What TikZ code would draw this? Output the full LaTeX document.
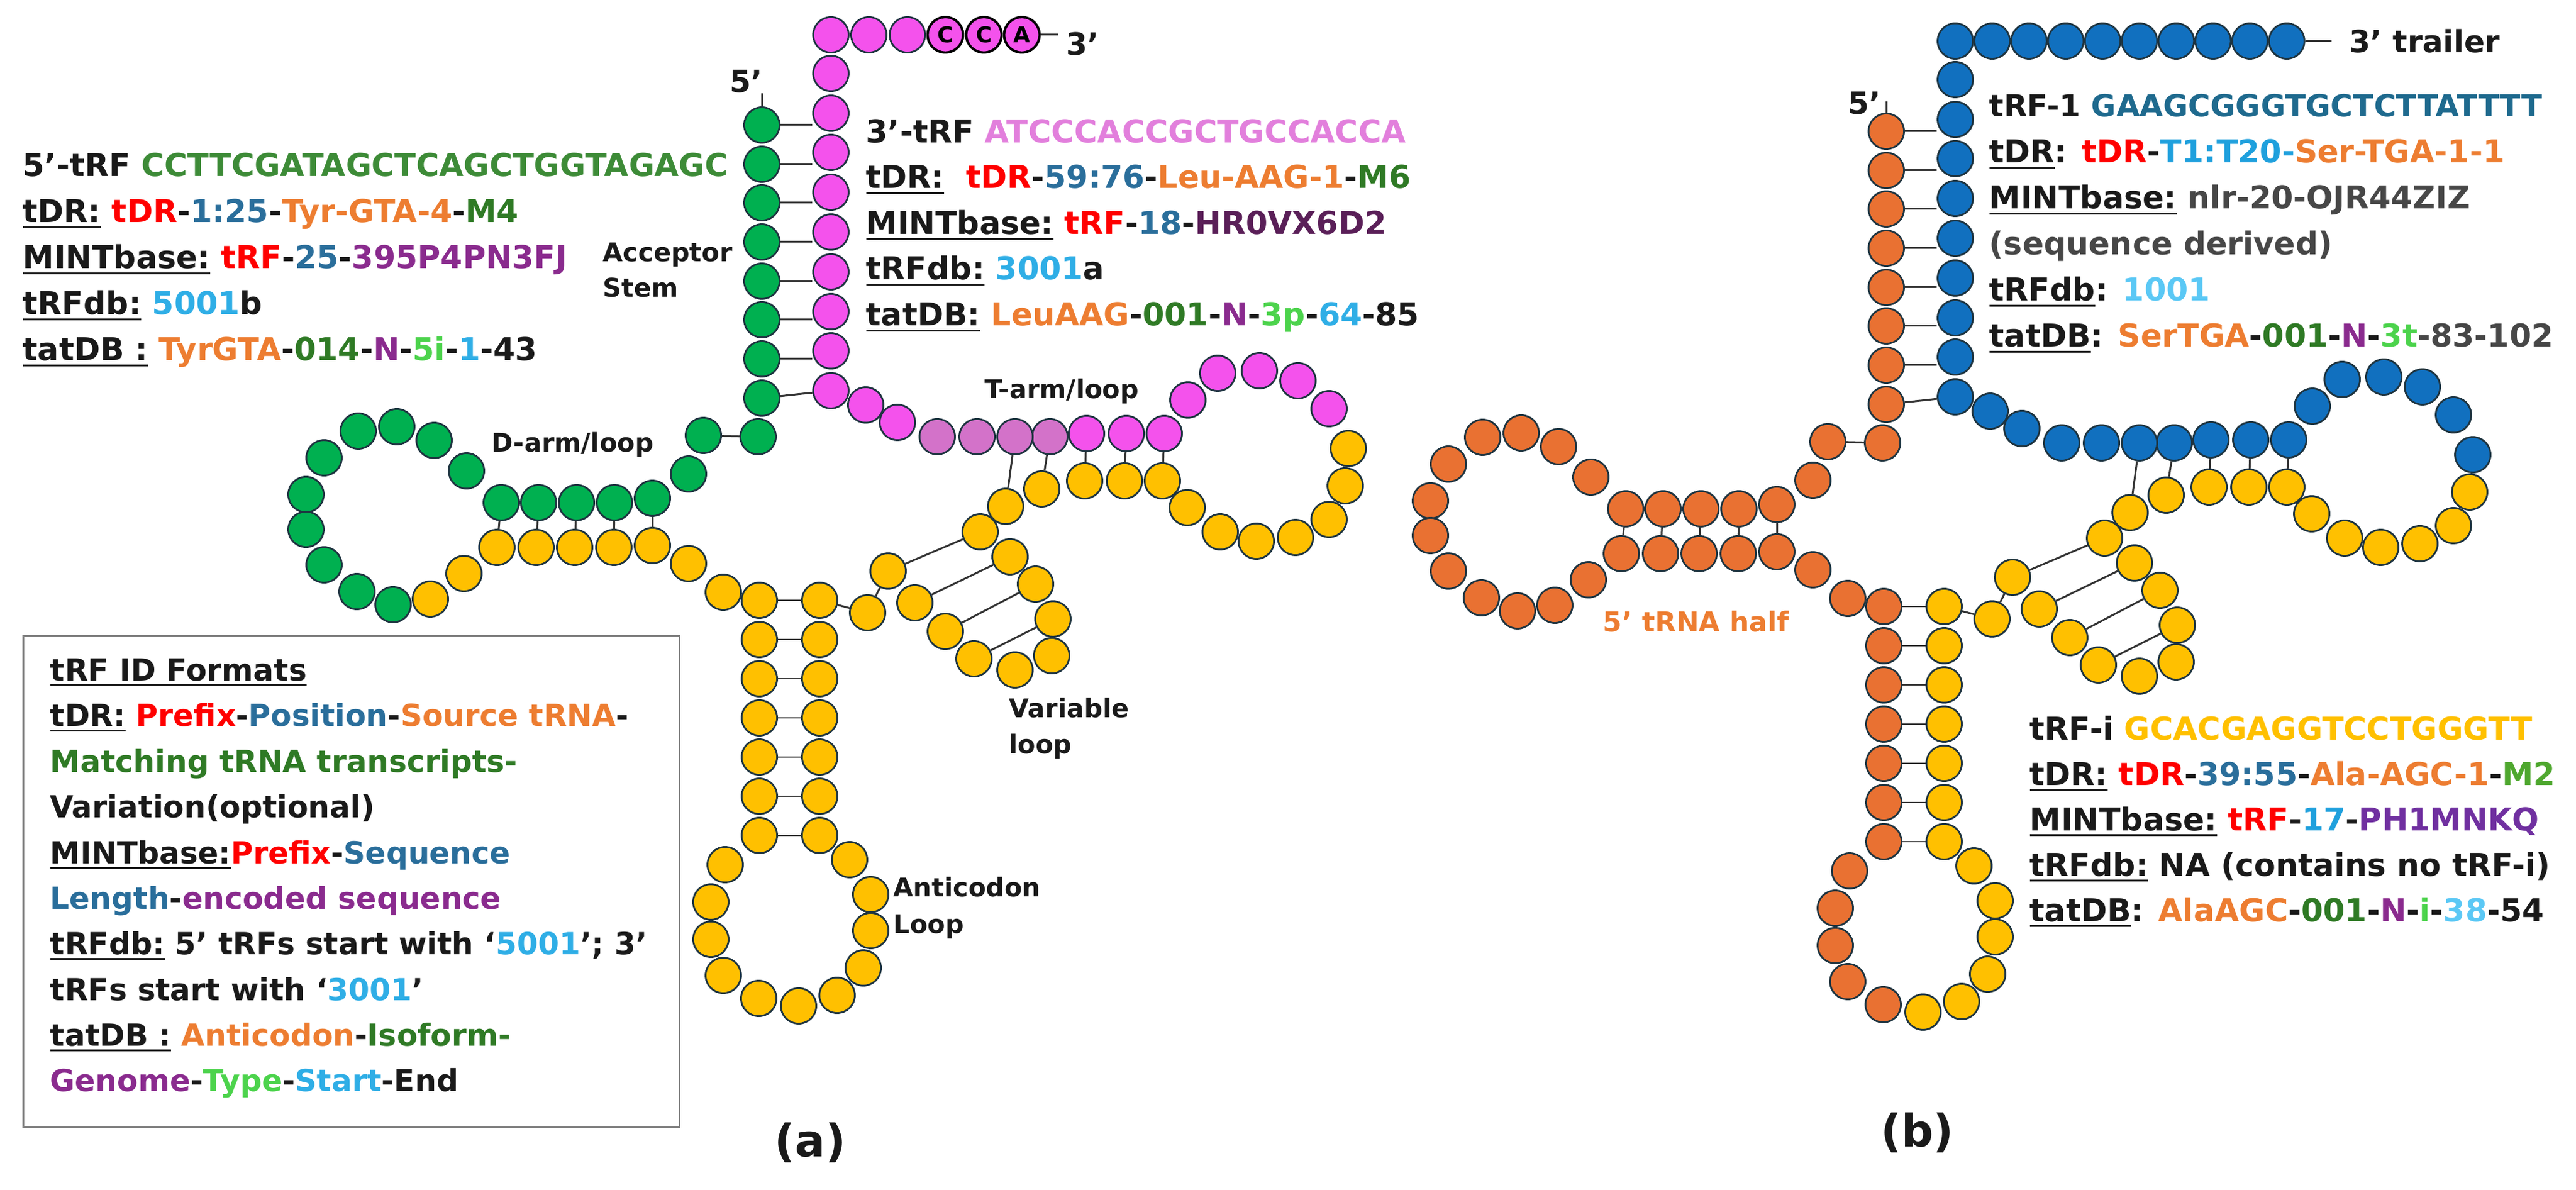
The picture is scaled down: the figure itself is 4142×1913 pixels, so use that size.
\documentclass[tikz,border=0pt]{standalone}
\usepackage{fontspec}
\setmainfont{DejaVu Sans}
\usetikzlibrary{positioning}

\definecolor{ntgreen}{HTML}{00B050}
\definecolor{ntyellow}{HTML}{FFC000}
\definecolor{ntpink}{HTML}{F452EC}
\definecolor{ntlilac}{HTML}{D372C9}
\definecolor{ntorange}{HTML}{E97132}
\definecolor{ntblue}{HTML}{1170BF}
\definecolor{ntedge}{HTML}{1E3440}
\definecolor{bondgrey}{HTML}{333333}
\definecolor{legendgrey}{HTML}{808080}
\definecolor{txtdark}{HTML}{1A1A1A}
\definecolor{txtgrey}{HTML}{474747}
\definecolor{idred}{HTML}{FF0000}
\definecolor{idteal}{HTML}{2A6E9B}
\definecolor{idcyan}{HTML}{1FA0DD}
\definecolor{idorange}{HTML}{ED7D31}
\definecolor{iddkgreen}{HTML}{2F7A25}
\definecolor{idgreen}{HTML}{4EA72E}
\definecolor{idpurple}{HTML}{8A2B8E}
\definecolor{iddkpurple}{HTML}{5A1F58}
\definecolor{idviolet}{HTML}{7030A0}
\definecolor{idlime}{HTML}{4CD34C}
\definecolor{idsky}{HTML}{2FAEE6}
\definecolor{idpaleblue}{HTML}{5BC8F5}
\definecolor{seqgreen}{HTML}{3D8B37}
\definecolor{seqpink}{HTML}{E27FDC}
\definecolor{seqblue}{HTML}{1F6A8E}

\newcommand{\idlab}[1]{\setbox0\hbox{#1}\rlap{\rule[-2.6pt]{\wd0}{0.85pt}}\box0\relax}

% nucleotide centres (px), 5' end first
\def\trnachain{1225/201, 1225/264, 1225/326, 1225/389, 1225/452, 1225/514, 1225/577, 1225/640, 1219/702, 1131/700,
 1107/762, 1049/801, 988/808, 927/808, 866/808, 806/808, 750/757, 698/708, 638/686, 576/693,
 521/736, 492/795, 492/851, 521/908, 574/951, 632/972, 692/963, 746/922, 799/880, 862/880,
 924/880, 987/880, 1049/877, 1107/906, 1163/952, 1221/965, 1221/1028, 1221/1091, 1221/1154, 1221/1217,
 1221/1280, 1221/1343, 1166/1390, 1143/1450, 1143/1510, 1163/1568, 1220/1605, 1284/1617, 1346/1600, 1388/1556,
 1400/1496, 1400/1438, 1366/1382, 1318/1343, 1318/1280, 1318/1217, 1318/1154, 1318/1091, 1318/1028, 1318/965,
 1395/985, 1428/918, 1471/969, 1520/1015, 1566/1059, 1632/1077, 1691/1054, 1693/995, 1665/939, 1624/895,
 1576/855, 1617/814, 1675/786, 1744/773, 1808/773, 1869/773, 1909/816, 1962/855, 2020/870, 2083/864,
 2137/835, 2163/781, 2168/721, 2137/657, 2087/612, 2025/596, 1958/600, 1910/643, 1872/697, 1811/697,
 1747/697, 1688/702, 1632/702, 1571/702, 1507/702, 1443/679, 1392/651, 1336/628, 1336/564, 1336/501,
 1336/437, 1336/373, 1336/309, 1336/245, 1336/182, 1336/118, 1336/56}
\def\trnapairs{12/33, 13/32, 14/31, 15/30, 16/29, 36/60, 37/59, 38/58, 39/57, 40/56, 41/55, 42/54,
 62/71, 63/70, 64/69, 65/68, 72/93, 73/92, 74/91, 75/90, 76/89, 8/98}

\tikzset{
  nt/.style={circle, draw=ntedge, line width=0.8pt, minimum size=0.57cm, inner sep=0pt},
  cca/.style={draw=black, line width=1.1pt, font=\fontsize{10}{12}\selectfont\bfseries},
  bond/.style={draw=bondgrey, line width=0.85pt},
  idtext/.style={anchor=base west, inner sep=0pt, text=txtdark, font=\fontsize{14.4}{16}\selectfont\bfseries},
  keytext/.style={idtext, font=\fontsize{13.9}{16}\selectfont\bfseries},
  armlabel/.style={anchor=base west, inner sep=0pt, text=txtdark, font=\fontsize{11.8}{14}\selectfont\bfseries},
  endlabel/.style={inner sep=0pt, text=txtdark, font=\fontsize{14}{16}\selectfont\bfseries},
  panel/.style={anchor=base, inner sep=0pt, text=txtdark, font=\fontsize{20.5}{24}\selectfont\bfseries},
  legendbox/.style={draw=legendgrey, line width=0.8pt, anchor=north west, inner sep=0pt}
}

\begin{document}
\begin{tikzpicture}[x=0.01cm, y=-0.01cm]
\useasboundingbox (0,0) rectangle (4142,1913);

% ---------- (a) ----------
\foreach \px/\py [count=\i] in \trnachain {
  \ifnum\i<27 \def\ntcol{ntgreen}\else\ifnum\i<84 \def\ntcol{ntyellow}\else
  \ifnum\i<92 \def\ntcol{ntpink}\else\ifnum\i<96 \def\ntcol{ntlilac}\else\def\ntcol{ntpink}\fi\fi\fi\fi
  \node[nt, fill=\ntcol] (a\i) at (\px,\py) {};
}
\node[nt, fill=ntpink] (a108) at (1397,56) {};
\node[nt, fill=ntpink] (a109) at (1459,56) {};
\node[nt, fill=ntpink, cca] (a110) at (1520,56) {C};
\node[nt, fill=ntpink, cca] (a111) at (1582,56) {C};
\node[nt, fill=ntpink, cca] (a112) at (1643,56) {A};

\foreach \u/\v in \trnapairs
  \draw[bond] (a\u) -- (a\v);
\foreach \g in {1,...,7}
  \draw[bond] (a\g.east) -- (a\g.east -| a98.west);
\draw[bond] (a9) -- (a10);
\draw[bond] (a60) -- (a61);
\draw[bond] (a61) -- (a62);

\coordinate (a5tip) at ([yshift=0.21cm]a1.north);
\draw[bond] (a1.north) -- (a5tip);
\node[endlabel, anchor=base east] (a5lab) at ([xshift=0.02cm,yshift=0.02cm]a5tip) {5'};
\coordinate (a3tip) at ([xshift=0.28cm]a112.east);
\draw[bond] (a112.east) -- (a3tip);
\node[endlabel, anchor=base west] (a3lab) at (1714,89) {3'};

\node[armlabel] (accLab) at (969,421) {Acceptor};
\node[armlabel] (stemLab) at (969,478) {Stem};
\node[armlabel] (dLab) at (790,727) {D-arm/loop};
\node[armlabel] (tLab) at (1583,641) {T-arm/loop};
\node[armlabel] (varLab) at (1622,1153) {Variable};
\node[armlabel] (varLab2) at (1622,1211) {loop};
\node[armlabel] (acLab) at (1436,1441) {Anticodon};
\node[armlabel] (acLab2) at (1436,1500) {Loop};

\node[idtext] (aL1) at (36,284) {5'-tRF \textcolor{seqgreen}{CCTTCGATAGCTCAGCTGGTAGAGC}};
\node[idtext] (aL2) at (36,358) {\idlab{tDR:} \textcolor{idred}{tDR}-\textcolor{idteal}{1:25}-\textcolor{idorange}{Tyr-GTA-4}-\textcolor{iddkgreen}{M4}};
\node[idtext] (aL3) at (36,432) {\idlab{MINTbase:} \textcolor{idred}{tRF}-\textcolor{idteal}{25}-\textcolor{idpurple}{395P4PN3FJ}};
\node[idtext] (aL4) at (36,506) {\idlab{tRFdb:} \textcolor{idsky}{5001}b};
\node[idtext] (aL5) at (36,580) {\idlab{tatDB :} \textcolor{idorange}{TyrGTA}-\textcolor{iddkgreen}{014}-\textcolor{idpurple}{N}-\textcolor{idlime}{5i}-\textcolor{idsky}{1}-43};

\node[idtext] (aM1) at (1392,230) {3'-tRF \textcolor{seqpink}{ATCCCACCGCTGCCACCA}};
\node[idtext] (aM2) at (1392,303) {\idlab{tDR:}\ \ \textcolor{idred}{tDR}-\textcolor{idteal}{59:76}-\textcolor{idorange}{Leu-AAG-1}-\textcolor{iddkgreen}{M6}};
\node[idtext] (aM3) at (1392,377) {\idlab{MINTbase:} \textcolor{idred}{tRF}-\textcolor{idteal}{18}-\textcolor{iddkpurple}{HR0VX6D2}};
\node[idtext] (aM4) at (1392,450) {\idlab{tRFdb:} \textcolor{idsky}{3001}a};
\node[idtext] (aM5) at (1392,524) {\idlab{tatDB:} \textcolor{idorange}{LeuAAG}-\textcolor{iddkgreen}{001}-\textcolor{idpurple}{N}-\textcolor{idlime}{3p}-\textcolor{idsky}{64}-85};

% key box
\node[legendbox, minimum width=10.55cm, minimum height=7.89cm] (key) at (36,1021) {};
\node[keytext] (key1) at (80,1094) {\idlab{tRF ID Formats}};
\node[keytext] (key2) at (80,1167) {\idlab{tDR:} \textcolor{idred}{Prefix}-\textcolor{idteal}{Position}-\textcolor{idorange}{Source tRNA}-};
\node[keytext] (key3) at (80,1241) {\textcolor{iddkgreen}{Matching tRNA transcripts-}};
\node[keytext] (key4) at (80,1314) {Variation(optional)};
\node[keytext] (key5) at (80,1388) {\idlab{MINTbase:}\textcolor{idred}{Prefix}-\textcolor{idteal}{Sequence}};
\node[keytext] (key6) at (80,1461) {\textcolor{idteal}{Length}-\textcolor{idpurple}{encoded sequence}};
\node[keytext] (key7) at (80,1534) {\idlab{tRFdb:} 5' tRFs start with `\textcolor{idsky}{5001}'; 3'};
\node[keytext] (key8) at (80,1608) {tRFs start with `\textcolor{idsky}{3001}'};
\node[keytext] (key9) at (80,1681) {\idlab{tatDB :} \textcolor{idorange}{Anticodon}-\textcolor{iddkgreen}{Isoform-}};
\node[keytext] (key10) at (80,1754) {\textcolor{idpurple}{Genome}-\textcolor{idlime}{Type}-\textcolor{idsky}{Start}-End};

\node[panel] (capA) at (1303,1859) {(a)};

% ---------- (b) ----------
\begin{scope}[shift={(1808,10)}]
\foreach \px/\py [count=\i] in \trnachain {
  \ifnum\i<48 \def\ntcol{ntorange}\else\ifnum\i<83 \def\ntcol{ntyellow}\else\def\ntcol{ntblue}\fi\fi
  \node[nt, fill=\ntcol] (b\i) at (\px,\py) {};
}
\foreach \k [evaluate=\k as \n using int(107+\k)] in {1,...,9}
  \node[nt, fill=ntblue] (b\n) at ({1336+59.2*\k},56) {};

\foreach \u/\v in \trnapairs
  \draw[bond] (b\u) -- (b\v);
\foreach \g in {1,...,7}
  \draw[bond] (b\g.east) -- (b\g.east -| b98.west);
\draw[bond] (b9) -- (b10);
\draw[bond] (b60) -- (b61);
\draw[bond] (b61) -- (b62);

\coordinate (b5tip) at ([yshift=0.18cm]b1.north);
\draw[bond] (b1.north) -- (b5tip);
\node[endlabel, anchor=base east] (b5lab) at ([xshift=-0.08cm,yshift=-0.02cm]b1.north) {5'};
\coordinate (b3tip) at ([xshift=0.42cm]b116.east);
\draw[bond] (b116.east) -- (b3tip);
\node[endlabel, anchor=west] (b3lab) at ([xshift=0.28cm]b3tip) {3' trailer};
\end{scope}

\node[armlabel, text=idorange, font=\fontsize{12.5}{14}\selectfont\bfseries] (halfLab) at (2577,1016) {5' tRNA half};

\node[idtext, font=\fontsize{13.9}{16}\selectfont\bfseries] (bT1) at (3198,188) {tRF-1 \textcolor{seqblue}{GAAGCGGGTGCTCTTATTTT}};
\node[idtext] (bT2) at (3198,262) {\idlab{tDR}: \textcolor{idred}{tDR}-\textcolor{idcyan}{T1:T20-}\textcolor{idorange}{Ser-TGA-1-1}};
\node[idtext] (bT3) at (3198,336) {\idlab{MINTbase:} \textcolor{txtgrey}{nlr-20-OJR44ZIZ}};
\node[idtext] (bT4) at (3198,410) {\textcolor{txtgrey}{(sequence derived)}};
\node[idtext] (bT5) at (3198,484) {\idlab{tRFdb}: \textcolor{idpaleblue}{1001}};
\node[idtext] (bT6) at (3198,558) {\idlab{tatDB}: \textcolor{idorange}{SerTGA}-\textcolor{iddkgreen}{001}-\textcolor{idpurple}{N}-\textcolor{idlime}{3t}\textcolor{txtgrey}{-83-102}};

\node[idtext] (bB1) at (3263,1189) {tRF-i \textcolor{ntyellow}{GCACGAGGTCCTGGGTT}};
\node[idtext] (bB2) at (3263,1262) {\idlab{tDR:} \textcolor{idred}{tDR}-\textcolor{idteal}{39:55}-\textcolor{idorange}{Ala-AGC-1}-\textcolor{idgreen}{M2}};
\node[idtext] (bB3) at (3263,1335) {\idlab{MINTbase:} \textcolor{idred}{tRF}-\textcolor{idcyan}{17}-\textcolor{idviolet}{PH1MNKQ}};
\node[idtext] (bB4) at (3263,1408) {\idlab{tRFdb:} NA (contains no tRF-i)};
\node[idtext] (bB5) at (3263,1481) {\idlab{tatDB}: \textcolor{idorange}{AlaAGC}-\textcolor{iddkgreen}{001}-\textcolor{idpurple}{N}-\textcolor{idlime}{i}-\textcolor{idpaleblue}{38}-54};

\node[panel] (capB) at (3083,1843) {(b)};
\end{tikzpicture}
\end{document}
